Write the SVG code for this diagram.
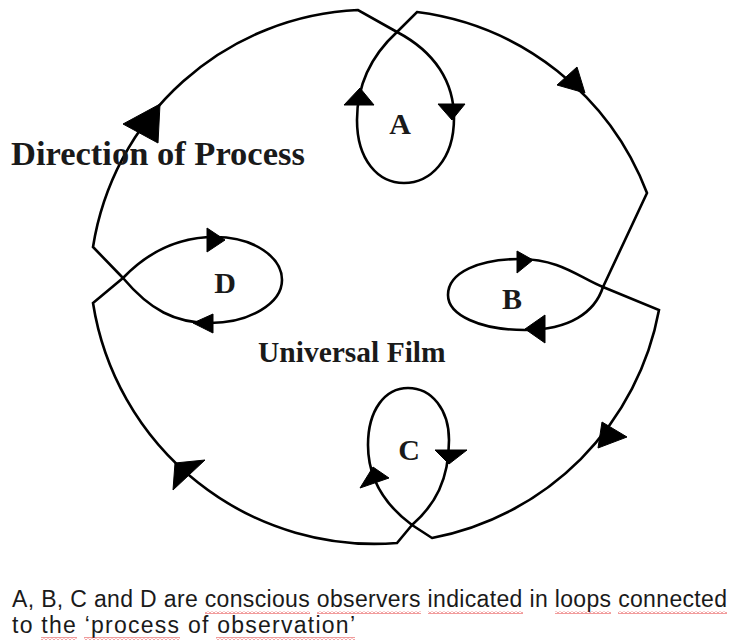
<svg xmlns="http://www.w3.org/2000/svg" width="729" height="643" viewBox="0 0 729 643">
<style>
.ln{fill:none;stroke:#000;stroke-width:2.6;stroke-linejoin:miter;stroke-linecap:round}
.ah{fill:#000;stroke:#000;stroke-width:1;stroke-linejoin:round}
.lbl{font-family:"Liberation Serif","Times New Roman",serif;font-weight:bold;fill:#1a1a1a}
.cap{font-family:"Liberation Sans",Arial,sans-serif;font-size:23px;fill:#1a1a1a}
.sq{fill:url(#wave)}
</style>
<defs>
<pattern id="wave" patternUnits="userSpaceOnUse" width="4" height="3">
<path d="M0,2.5 L2,0.5 L4,2.5" fill="none" stroke="#e02020" stroke-width="0.9"/>
</pattern>
</defs>
<rect width="729" height="643" fill="#fff"/>
<g id="connectors">
<path class="ln" d="M123,278 L93,247 A281,281 0 0 1 358,10 L397,32"/>
<path class="ln" d="M397,32 L417,12 A285,285 0 0 1 647,193 L603,287"/>
<path class="ln" d="M603,287 L659,310 A285,285 0 0 1 432,538 L412,525"/>
<path class="ln" d="M412,525 L397,543 A285,285 0 0 1 93,303 L123,278"/>
<polygon class="ah" points="160,104 123,124 158,143"/>
<polygon class="ah" points="585,93 557,85 577,67"/>
<polygon class="ah" points="598,448 602,422 627,437"/>
<polygon class="ah" points="175,463 205,460 173,490"/>
</g>
<g id="loop-A">
<path class="ln" d="M397,32 C435,52 454,82 454,118 C454,160 430,183 404,183 C378,183 357,160 357,120 C357,85 372,55 397,32"/>
<polygon class="ah" points="438,104 465,104 452,120"/>
<polygon class="ah" points="344,105 374,105 360,88"/>
<text class="lbl" x="400" y="134" font-size="30" text-anchor="middle">A</text>
</g>
<g id="loop-B">
<path class="ln" d="M603,287 C595,312 570,330 525,330 C480,330 448,315 448,295 C448,272 480,259 520,259 C560,259 580,278 603,287"/>
<polygon class="ah" points="517,251 517,273 533,260"/>
<polygon class="ah" points="545,315 545,343 525,329"/>
<text class="lbl" x="512" y="309" font-size="30" text-anchor="middle">B</text>
</g>
<g id="loop-C">
<path class="ln" d="M412,525 C385,505 368,480 368,445 C368,410 385,388 408,388 C432,388 449,410 449,440 C449,480 435,505 412,525"/>
<polygon class="ah" points="435,450 467,450 449,464"/>
<polygon class="ah" points="373,467 360,488 389,478"/>
<text class="lbl" x="409" y="460" font-size="30" text-anchor="middle">C</text>
</g>
<g id="loop-D">
<path class="ln" d="M123,278 C145,255 175,237 215,237 C255,237 282,258 282,280 C282,303 250,323 210,323 C175,323 150,310 123,278"/>
<polygon class="ah" points="207,228 207,252 225,240"/>
<polygon class="ah" points="213,314 213,333 193,323"/>
<text class="lbl" x="225" y="293" font-size="30" text-anchor="middle">D</text>
</g>
<g id="labels">
<text class="lbl" x="11" y="165" font-size="34.5">Direction of Process</text>
<text class="lbl" x="258" y="362" font-size="29.5">Universal Film</text>
</g>
<g id="caption">
<text class="cap" x="12" y="607" textLength="715" lengthAdjust="spacing">A, B, C and D are conscious observers indicated in loops connected</text>
<text class="cap" x="12" y="633" textLength="343" lengthAdjust="spacing">to the ‘process of observation’</text>
<rect class="sq" x="205" y="611" width="105" height="3"/>
<rect class="sq" x="317" y="611" width="104" height="3"/>
<rect class="sq" x="428" y="611" width="95" height="3"/>
<rect class="sq" x="555" y="611" width="56" height="3"/>
<rect class="sq" x="618" y="611" width="109" height="3"/>
<rect class="sq" x="41" y="637" width="36" height="3"/>
<rect class="sq" x="84" y="637" width="96" height="3"/>
<rect class="sq" x="216" y="637" width="139" height="3"/>
</g>
</svg>
